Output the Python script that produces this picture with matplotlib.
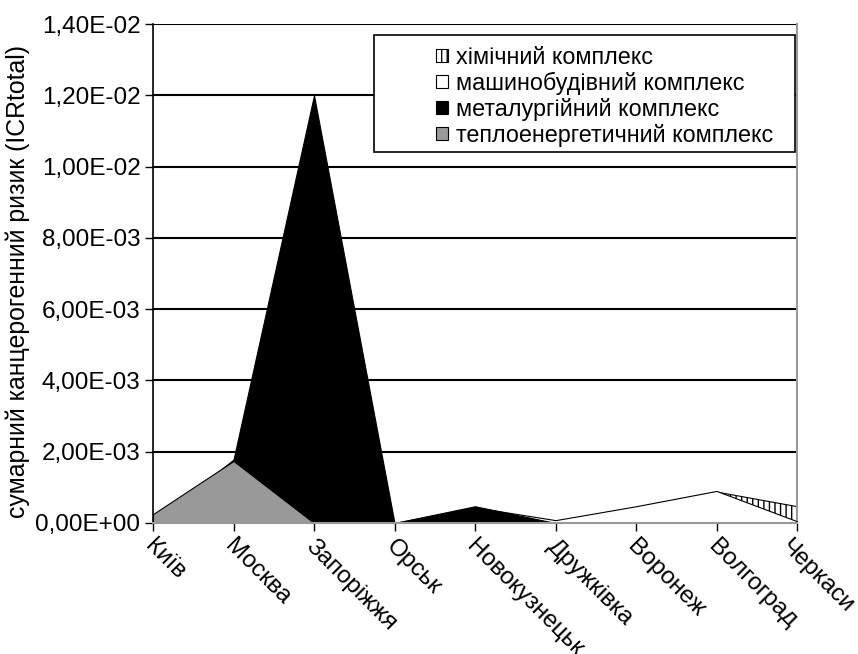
import numpy as np
import matplotlib.pyplot as plt
import matplotlib.transforms as mtransforms
from matplotlib.patches import Patch, Rectangle

plt.rcParams['font.family'] = ['Liberation Sans', 'DejaVu Sans']

cities = ['Київ', 'Москва', 'Запоріжжя', 'Орськ', 'Новокузнецьк',
          'Дружківка', 'Воронеж', 'Волгоград', 'Черкаси']

# values (x 1e-3)
chem = [0, 0, 0, 0, 0, 0, 0, 0.87, 0.46]
machine = [0, 0, 0, 0, 0.44, 0.08, 0.47, 0.9, 0.05]
metal = [0, 1.78, 12.0, 0, 0.47, 0, 0, 0, 0]
heat = [0.25, 1.74, 0, 0, 0, 0, 0, 0, 0]

series = [
    ('хімічний комплекс', chem, dict(facecolor='white', hatch='|||')),
    ('машинобудівний комплекс', machine, dict(facecolor='white')),
    ('металургійний комплекс', metal, dict(facecolor='black')),
    ('теплоенергетичний комплекс', heat, dict(facecolor='#999999')),
]

fig = plt.figure(figsize=(8.58, 6.54), dpi=100)
ax = fig.add_axes([153 / 858, 1 - 523 / 654, 644 / 858, 499 / 654])

x = np.arange(len(cities))
handles = []
for i, (name, vals, style) in enumerate(series):
    y = np.array(vals) * 1e-3
    ax.fill_between(x, 0, y, edgecolor='black', linewidth=0.8, zorder=2 + i, **style)
    handles.append(Patch(edgecolor='black', linewidth=0.8, label=name, **style))

ax.set_xlim(0, len(cities) - 1)
ax.set_ylim(0, 0.014)
yt = np.arange(0, 0.0141, 0.002)
ax.set_yticks(yt)
ax.set_yticklabels([('%.2E' % v).replace('.', ',') for v in yt], fontsize=17.5)
ax.set_xticks(x)
ax.set_xticklabels([])
ax.tick_params(axis='both', direction='out', length=6, width=1, color='black')
ax.tick_params(axis='y', pad=3)

# rotated city names, top-left corner just below each tick
# (the last one is nudged left so it stays inside the figure)
for xi, name in zip(x, cities):
    dx = -5 if xi == x[-1] else 3
    trans = ax.get_xaxis_transform() + mtransforms.ScaledTranslation(
        dx / 100, -12 / 100, fig.dpi_scale_trans)
    ax.text(xi, 0, name, transform=trans, fontsize=17.5, rotation=-45,
            ha='left', va='top', rotation_mode='anchor', clip_on=False)

ax.yaxis.grid(True, color='black', linewidth=1.5, zorder=1)
ax.set_axisbelow(True)
ax.spines['top'].set_visible(False)
ax.spines['right'].set_color('#999999')
ax.spines['right'].set_linewidth(1.5)
ax.spines['left'].set_linewidth(1.2)
ax.spines['bottom'].set_color('#999999')
ax.spines['bottom'].set_linewidth(1.5)
ax.spines['bottom'].set_zorder(10)

ax.set_ylabel('сумарний канцерогенний ризик (ICRtotal)', fontsize=17.9)
ax.yaxis.set_label_coords((30 - 153) / 644, (523 - 282) / 499)

# legend with a wider frame on the left, as in the picture
frame = Rectangle(((374 - 153) / 644, (523 - 152) / 499), (795 - 374) / 644, 117 / 499,
                  transform=ax.transAxes, facecolor='white', edgecolor='black',
                  linewidth=1.2, zorder=20)
ax.add_patch(frame)
leg = ax.legend(handles=handles, loc='upper left',
                bbox_to_anchor=((436 - 153) / 644, (523 - 46) / 499),
                frameon=False, fontsize=16.8, handlelength=0.5, handleheight=0.5,
                handletextpad=0.35, labelspacing=0.12, borderpad=0, borderaxespad=0)
leg.set_zorder(21)

fig.savefig('out.png', dpi=100)
